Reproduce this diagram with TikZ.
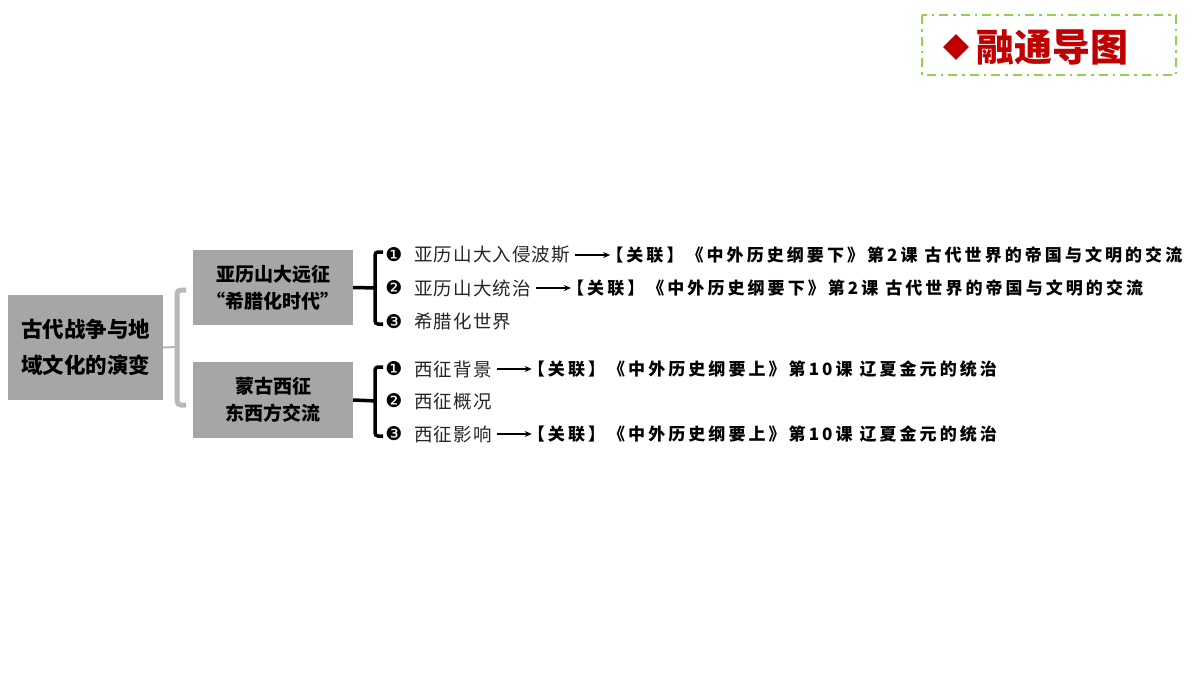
\documentclass[tikz,border=0pt]{standalone}
\usepackage{fontspec}
\newfontfamily\cjk{Noto Sans CJK SC}
\newfontfamily\cjkrel[LetterSpace=18]{Noto Sans CJK SC}
\newfontfamily\cjkitem[LetterSpace=6]{Noto Sans CJK SC}
\newfontfamily\dv{DejaVu Sans}
\usetikzlibrary{arrows.meta,shapes.geometric}
\definecolor{boxg}{HTML}{A6A6A6}
\definecolor{gr}{HTML}{92D050}
\definecolor{rd}{HTML}{C00000}
\begin{document}
\begin{tikzpicture}[x=1pt,y=-1pt,
  gbox/.style={fill=boxg,inner sep=0,align=center,text=black},
  item/.style={anchor=west,inner sep=1pt,font=\cjkitem\fontsize{18.5}{20}\selectfont,text=black!85},
  rel/.style={anchor=west,inner sep=1pt,font=\cjkrel\bfseries\fontsize{17}{20}\selectfont},
  num/.style={anchor=center,inner sep=0,font=\dv\fontsize{19}{20}\selectfont},
  arr/.style={-{Stealth[length=7pt,width=6pt]},line width=1.2pt},
  brk/.style={line width=3.5pt,rounded corners=3pt}]
\useasboundingbox (0,0) rectangle (1200,675);
\fill[white] (0,0) rectangle (1200,675);
% title
\draw[gr,line width=2.5pt,dash pattern=on 9pt off 5pt on 2.5pt off 5pt] (922,15) rectangle (1176,75);
\node[diamond,fill=rd,minimum size=26pt,inner sep=0] (dia) at (956,47) {};
\node[anchor=west,text=rd,font=\cjk\bfseries\fontsize{38}{40}\selectfont,inner sep=0] (tt) at (976,47) {融通导图};
% boxes
\node[gbox,minimum width=155pt,minimum height=105pt,font=\cjk\bfseries\fontsize{21.5}{36}\selectfont] (m) at (85.5,347.5) {古代战争与地\\域文化的演变};
\node[gbox,minimum width=160pt,minimum height=75pt,font=\cjk\bfseries\fontsize{19}{27}\selectfont] (a) at (273,287.5) {亚历山大远征\\“希腊化时代”};
\node[gbox,minimum width=160pt,minimum height=76pt,font=\cjk\bfseries\fontsize{19}{27}\selectfont] (b) at (273,400) {蒙古西征\\东西方交流};
% light bracket
\draw[boxg!80,line width=5pt,rounded corners=4pt] (186,290) -- (177,290) -- (177,405) -- (186,405);
\draw[boxg!80,line width=2pt] (177,347) -- (m.east);
% black brackets
\coordinate (ta) at (377,288);
\coordinate (tb) at (377,401);
\draw[brk] (383,252) -- (375,252) -- (375,324) -- (383,324);
\draw[line width=3.5pt] (a.east) -- (ta);
\draw[brk] (383,367) -- (375,367) -- (375,436) -- (383,436);
\draw[line width=3.5pt] (b.east) -- (tb);
% items
\foreach \n/\y/\s in {a1/255/❶,a2/288/❷,a3/322/❸,b1/369/❶,b2/401/❷,b3/434/❸}{\node[num] (n\n) at (394,\y) {\s};}
\node[item] (ia1) at (413,255) {亚历山大入侵波斯};
\node[item] (ia2) at (413,288) {亚历山大统治};
\node[item] (ia3) at (413,322) {希腊化世界};
\node[item] (ib1) at (413,369) {西征背景};
\node[item] (ib2) at (413,401) {西征概况};
\node[item] (ib3) at (413,434) {西征影响};
\node[rel] (ra1) at ([xshift=34pt]ia1.east) {【关联】《中外历史纲要下》第2课\ 古代世界的帝国与文明的交流};
\node[rel] (ra2) at ([xshift=34pt]ia2.east) {【关联】《中外历史纲要下》第2课\ 古代世界的帝国与文明的交流};
\node[rel] (rb1) at ([xshift=34pt]ib1.east) {【关联】《中外历史纲要上》第10课\ 辽夏金元的统治};
\node[rel] (rb3) at ([xshift=34pt]ib3.east) {【关联】《中外历史纲要上》第10课\ 辽夏金元的统治};
\draw[arr] ([xshift=4pt]ia1.east) -- ([xshift=5pt]ra1.west);
\draw[arr] ([xshift=4pt]ia2.east) -- ([xshift=5pt]ra2.west);
\draw[arr] ([xshift=4pt]ib1.east) -- ([xshift=5pt]rb1.west);
\draw[arr] ([xshift=4pt]ib3.east) -- ([xshift=5pt]rb3.west);
\end{tikzpicture}
\end{document}
